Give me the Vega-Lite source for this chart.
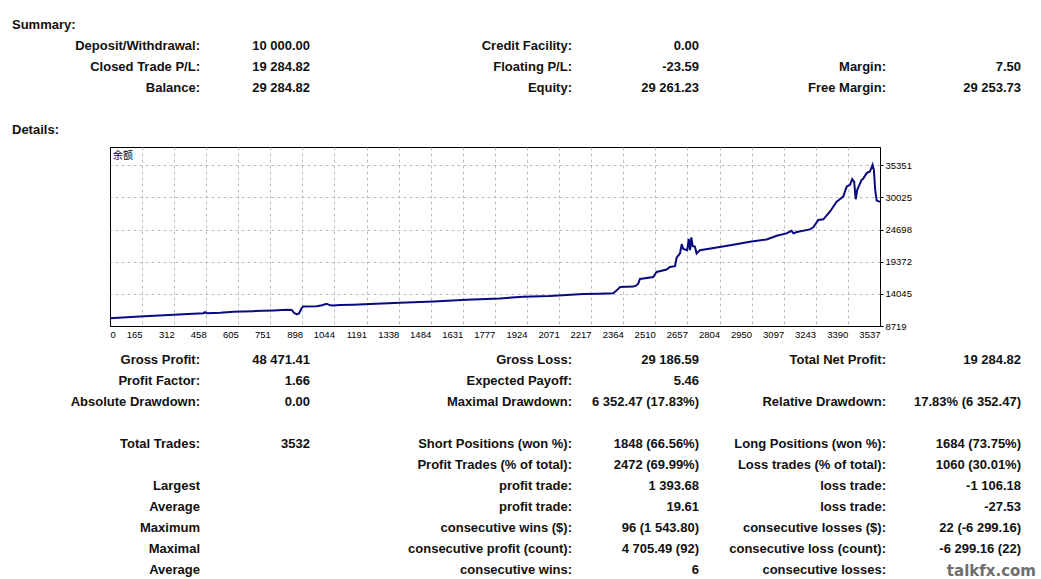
{
  "$schema": "https://vega.github.io/schema/vega-lite/v6.json",
  "padding": 0,
  "background": "white",
  "autosize": {"type": "pad"},
  "bounds": "flush",
  "spacing": 0,
  "config": {"view": {"stroke": null}, "font": "Liberation Sans"},
  "datasets": {
    "summary": [
      {"row": 0, "col": 0, "t": "Summary:"},
      {"row": 5, "col": 0, "t": "Details:"},
      {"row": 1, "col": 1, "t": "Deposit/Withdrawal:"},
      {"row": 1, "col": 2, "t": "10 000.00"},
      {"row": 1, "col": 3, "t": "Credit Facility:"},
      {"row": 1, "col": 4, "t": "0.00"},
      {"row": 2, "col": 1, "t": "Closed Trade P/L:"},
      {"row": 2, "col": 2, "t": "19 284.82"},
      {"row": 2, "col": 3, "t": "Floating P/L:"},
      {"row": 2, "col": 4, "t": "-23.59"},
      {"row": 2, "col": 5, "t": "Margin:"},
      {"row": 2, "col": 6, "t": "7.50"},
      {"row": 3, "col": 1, "t": "Balance:"},
      {"row": 3, "col": 2, "t": "29 284.82"},
      {"row": 3, "col": 3, "t": "Equity:"},
      {"row": 3, "col": 4, "t": "29 261.23"},
      {"row": 3, "col": 5, "t": "Free Margin:"},
      {"row": 3, "col": 6, "t": "29 253.73"}
    ],
    "details": [
      {"row": 0, "col": 1, "t": "Gross Profit:"},
      {"row": 0, "col": 2, "t": "48 471.41"},
      {"row": 0, "col": 3, "t": "Gross Loss:"},
      {"row": 0, "col": 4, "t": "29 186.59"},
      {"row": 0, "col": 5, "t": "Total Net Profit:"},
      {"row": 0, "col": 6, "t": "19 284.82"},
      {"row": 1, "col": 1, "t": "Profit Factor:"},
      {"row": 1, "col": 2, "t": "1.66"},
      {"row": 1, "col": 3, "t": "Expected Payoff:"},
      {"row": 1, "col": 4, "t": "5.46"},
      {"row": 2, "col": 1, "t": "Absolute Drawdown:"},
      {"row": 2, "col": 2, "t": "0.00"},
      {"row": 2, "col": 3, "t": "Maximal Drawdown:"},
      {"row": 2, "col": 4, "t": "6 352.47 (17.83%)"},
      {"row": 2, "col": 5, "t": "Relative Drawdown:"},
      {"row": 2, "col": 6, "t": "17.83% (6 352.47)"},
      {"row": 4, "col": 1, "t": "Total Trades:"},
      {"row": 4, "col": 2, "t": "3532"},
      {"row": 4, "col": 3, "t": "Short Positions (won %):"},
      {"row": 4, "col": 4, "t": "1848 (66.56%)"},
      {"row": 4, "col": 5, "t": "Long Positions (won %):"},
      {"row": 4, "col": 6, "t": "1684 (73.75%)"},
      {"row": 5, "col": 3, "t": "Profit Trades (% of total):"},
      {"row": 5, "col": 4, "t": "2472 (69.99%)"},
      {"row": 5, "col": 5, "t": "Loss trades (% of total):"},
      {"row": 5, "col": 6, "t": "1060 (30.01%)"},
      {"row": 6, "col": 1, "t": "Largest"},
      {"row": 6, "col": 3, "t": "profit trade:"},
      {"row": 6, "col": 4, "t": "1 393.68"},
      {"row": 6, "col": 5, "t": "loss trade:"},
      {"row": 6, "col": 6, "t": "-1 106.18"},
      {"row": 7, "col": 1, "t": "Average"},
      {"row": 7, "col": 3, "t": "profit trade:"},
      {"row": 7, "col": 4, "t": "19.61"},
      {"row": 7, "col": 5, "t": "loss trade:"},
      {"row": 7, "col": 6, "t": "-27.53"},
      {"row": 8, "col": 1, "t": "Maximum"},
      {"row": 8, "col": 3, "t": "consecutive wins ($):"},
      {"row": 8, "col": 4, "t": "96 (1 543.80)"},
      {"row": 8, "col": 5, "t": "consecutive losses ($):"},
      {"row": 8, "col": 6, "t": "22 (-6 299.16)"},
      {"row": 9, "col": 1, "t": "Maximal"},
      {"row": 9, "col": 3, "t": "consecutive profit (count):"},
      {"row": 9, "col": 4, "t": "4 705.49 (92)"},
      {"row": 9, "col": 5, "t": "consecutive loss (count):"},
      {"row": 9, "col": 6, "t": "-6 299.16 (22)"},
      {"row": 10, "col": 1, "t": "Average"},
      {"row": 10, "col": 3, "t": "consecutive wins:"},
      {"row": 10, "col": 4, "t": "6"},
      {"row": 10, "col": 5, "t": "consecutive losses:"}
    ],
    "watermark": [
      {"row": 10, "col": 6, "t": "talkfx.com"}
    ],
    "balance": [
      {"n": 18, "v": 10000}, {"n": 155, "v": 10300}, {"n": 353, "v": 10683},
      {"n": 445, "v": 10850}, {"n": 452, "v": 11000}, {"n": 461, "v": 10830},
      {"n": 521, "v": 10917}, {"n": 582, "v": 11080}, {"n": 673, "v": 11180},
      {"n": 765, "v": 11300}, {"n": 826, "v": 11416}, {"n": 849, "v": 11380},
      {"n": 859, "v": 10900}, {"n": 872, "v": 10633}, {"n": 882, "v": 10800},
      {"n": 894, "v": 11700}, {"n": 902, "v": 11965}, {"n": 963, "v": 12000},
      {"n": 987, "v": 12150}, {"n": 1008, "v": 12414}, {"n": 1024, "v": 12150},
      {"n": 1039, "v": 12131}, {"n": 1069, "v": 12200}, {"n": 1130, "v": 12248},
      {"n": 1206, "v": 12348}, {"n": 1344, "v": 12580}, {"n": 1496, "v": 12797},
      {"n": 1648, "v": 13080}, {"n": 1800, "v": 13296}, {"n": 1907, "v": 13580},
      {"n": 2029, "v": 13680}, {"n": 2181, "v": 14012}, {"n": 2257, "v": 14080},
      {"n": 2318, "v": 14128}, {"n": 2334, "v": 14628}, {"n": 2349, "v": 15177},
      {"n": 2409, "v": 15244}, {"n": 2422, "v": 15400}, {"n": 2432, "v": 15743},
      {"n": 2440, "v": 16509}, {"n": 2501, "v": 16842}, {"n": 2516, "v": 17675},
      {"n": 2562, "v": 18073}, {"n": 2577, "v": 18506}, {"n": 2600, "v": 18623},
      {"n": 2608, "v": 20070}, {"n": 2623, "v": 20737}, {"n": 2631, "v": 22285},
      {"n": 2638, "v": 21500}, {"n": 2656, "v": 21286}, {"n": 2663, "v": 23167},
      {"n": 2669, "v": 21286}, {"n": 2675, "v": 23400}, {"n": 2681, "v": 21952},
      {"n": 2691, "v": 21900}, {"n": 2699, "v": 20737}, {"n": 2714, "v": 21286},
      {"n": 2791, "v": 21730}, {"n": 2866, "v": 22170}, {"n": 2943, "v": 22668},
      {"n": 3019, "v": 23067}, {"n": 3065, "v": 23666}, {"n": 3110, "v": 24065},
      {"n": 3133, "v": 24498}, {"n": 3141, "v": 24065}, {"n": 3157, "v": 24300},
      {"n": 3217, "v": 24731}, {"n": 3232, "v": 25064}, {"n": 3255, "v": 26280},
      {"n": 3278, "v": 26397}, {"n": 3308, "v": 27661}, {"n": 3339, "v": 29325},
      {"n": 3369, "v": 30165}, {"n": 3385, "v": 31828}, {"n": 3400, "v": 32105},
      {"n": 3410, "v": 33053}, {"n": 3419, "v": 32600}, {"n": 3426, "v": 29725},
      {"n": 3433, "v": 31273}, {"n": 3453, "v": 32935}, {"n": 3460, "v": 33100},
      {"n": 3476, "v": 34052}, {"n": 3491, "v": 34318}, {"n": 3503, "v": 35434},
      {"n": 3509, "v": 34600}, {"n": 3515, "v": 31273}, {"n": 3522, "v": 29492},
      {"n": 3537, "v": 29285}
    ]
  },
  "vconcat": [
    {
      "width": 1041,
      "height": 147,
      "data": {"name": "summary"},
      "encoding": {
        "x": {"field": "col", "type": "quantitative", "scale": {"domain": [0, 1, 2, 3, 4, 5, 6], "range": [12, 200, 310, 572, 699, 886, 1021], "nice": false, "zero": false}, "axis": null},
        "y": {"field": "row", "type": "quantitative", "scale": {"domain": [0, 5], "range": [24, 129], "nice": false, "zero": false}, "axis": null},
        "text": {"field": "t", "type": "nominal"}
      },
      "layer": [
        {
          "transform": [{"filter": "datum.col == 0"}],
          "mark": {"type": "text", "align": "left", "baseline": "middle", "dy": 1, "font": "Liberation Sans", "fontWeight": "bold", "fontSize": 13, "color": "#111111"}
        },
        {
          "transform": [{"filter": "datum.col > 0"}],
          "mark": {"type": "text", "align": "right", "baseline": "middle", "dy": 1, "font": "Liberation Sans", "fontWeight": "bold", "fontSize": 13, "color": "#111111"}
        }
      ]
    },
    {
      "spacing": 0,
      "bounds": "flush",
      "hconcat": [
        {
          "width": 110,
          "height": 179,
          "data": {"values": [{"t": ""}]},
          "mark": {"type": "text"},
          "encoding": {"text": {"field": "t", "type": "nominal"}}
        },
        {
          "width": 770,
          "height": 179,
          "view": {"stroke": "#000000", "strokeWidth": 1, "fill": "white"},
          "layer": [
            {
              "data": {"name": "balance"},
              "mark": {"type": "line", "color": "#0a0a80", "strokeWidth": 2, "clip": true},
              "encoding": {
                "x": {
                  "field": "n", "type": "quantitative",
                  "scale": {"domain": [18.4, 3537], "nice": false, "zero": false},
                  "axis": {
                    "title": null, "orient": "bottom",
                    "values": [18.4, 165, 312, 458, 605, 751, 898, 1044, 1191, 1338, 1484, 1631, 1777, 1924, 2071, 2217, 2364, 2510, 2657, 2804, 2950, 3097, 3243, 3390, 3537],
                    "tickCount": 200,
                    "format": "d",
                    "labelExpr": "datum.value < 100 ? '0' : datum.label",
                    "labelAlign": {"condition": {"test": "datum.value < 100", "value": "left"}, "value": "right"},
                    "labelFlush": false, "labelOverlap": false, "labelBound": false,
                    "labelFont": "Liberation Sans", "labelFontSize": 9.5, "labelColor": "#000000",
                    "labelPadding": 3, "ticks": false, "domain": false,
                    "grid": true, "gridDash": [3, 3],
                    "gridColor": {"condition": {"test": "datum.value < 100 || datum.value > 3530", "value": "#000000"}, "value": "#bdbdbd"},
                    "gridWidth": 1
                  }
                },
                "y": {
                  "field": "v", "type": "quantitative",
                  "scale": {"domain": [8719, 38380], "nice": false, "zero": false},
                  "axis": {
                    "title": null, "orient": "right",
                    "values": [8719, 14045, 19372, 24698, 30025, 35351],
                    "tickCount": 200,
                    "format": "d",
                    "labelFont": "Liberation Sans", "labelFontSize": 9.5, "labelColor": "#000000",
                    "labelOverlap": false, "labelFlush": false,
                    "tickSize": 3, "tickColor": "#000000",
                    "labelPadding": 2, "domain": false,
                    "grid": true, "gridDash": [3, 3],
                    "gridColor": {"condition": {"test": "datum.value < 9000", "value": "#000000"}, "value": "#bdbdbd"},
                    "gridWidth": 1
                  }
                }
              }
            },
            {
              "data": {"values": [{"t": "余额"}]},
              "mark": {"type": "text", "align": "left", "baseline": "top", "dx": 3, "dy": 4, "font": "Noto Sans CJK SC", "fontSize": 10, "color": "#000000"},
              "encoding": {
                "x": {"datum": 18.4, "type": "quantitative"},
                "y": {"datum": 38380, "type": "quantitative"},
                "text": {"field": "t", "type": "nominal"}
              }
            }
          ]
        }
      ]
    },
    {
      "width": 1041,
      "height": 432,
      "encoding": {
        "x": {"field": "col", "type": "quantitative", "scale": {"domain": [0, 1, 2, 3, 4, 5, 6], "range": [12, 200, 310, 572, 699, 886, 1021], "nice": false, "zero": false}, "axis": null},
        "y": {"field": "row", "type": "quantitative", "scale": {"domain": [0, 10], "range": [212, 422], "nice": false, "zero": false}, "axis": null},
        "text": {"field": "t", "type": "nominal"}
      },
      "layer": [
        {
          "data": {"name": "details"},
          "mark": {"type": "text", "align": "right", "baseline": "middle", "dy": 1, "font": "Liberation Sans", "fontWeight": "bold", "fontSize": 13, "color": "#111111"}
        },
        {
          "data": {"name": "watermark"},
          "mark": {"type": "text", "align": "right", "baseline": "middle", "dx": 15, "dy": 2, "font": "DejaVu Sans", "fontWeight": "bold", "fontSize": 15, "color": "#6e6e6e"}
        }
      ]
    }
  ]
}
